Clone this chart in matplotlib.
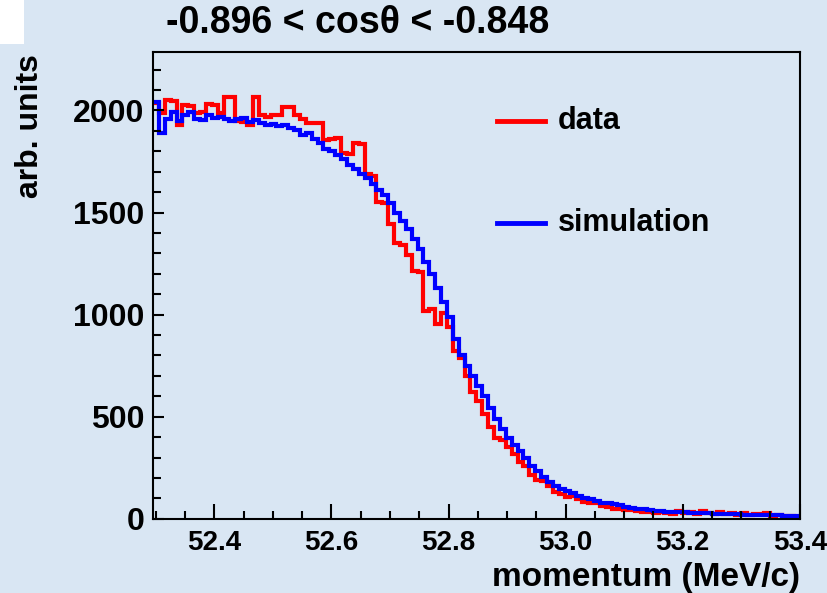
import numpy as np
import matplotlib
matplotlib.use("Agg")
import matplotlib.pyplot as plt
from matplotlib.patches import Rectangle
from matplotlib.ticker import MultipleLocator

plt.rcParams['font.family'] = ['Liberation Sans', 'DejaVu Sans']

# histogram binning (110 bins, ~0.01 MeV/c)
x_lo, x_hi = 52.295, 53.4
n_bins = 110

# measured momentum spectrum (red)
data_counts = [
    2035, 1985, 2050, 2045, 1930, 2025, 2020, 1985, 1990, 2030,
    2025, 1985, 2065, 2068, 1950, 1945, 1930, 2065, 1975, 1970,
    1975, 1975, 2015, 2015, 1975, 1960, 1940, 1940, 1940, 1855,
    1860, 1865, 1790, 1785, 1840, 1835, 1690, 1680, 1550, 1545,
    1445, 1350, 1340, 1290, 1215, 1210, 1020, 1030, 955, 1010,
    940, 820, 790, 700, 620, 575, 515, 450, 395, 385,
    350, 320, 280, 260, 215, 190, 185, 160, 130, 120,
    105, 110, 95, 85, 78, 80, 62, 58, 50, 48,
    45, 42, 40, 36, 32, 30, 35, 28, 26, 40,
    30, 35, 25, 38, 28, 22, 32, 24, 30, 20,
    28, 18, 25, 22, 30, 16, 20, 14, 12, 10,
]

# Monte Carlo spectrum (blue)
sim_counts = [
    2040, 1890, 1960, 1990, 1950, 1975, 1990, 1960, 1955, 1975,
    1965, 1970, 1960, 1950, 1960, 1965, 1945, 1955, 1940, 1930,
    1935, 1925, 1930, 1915, 1905, 1880, 1890, 1860, 1840, 1810,
    1800, 1780, 1760, 1735, 1715, 1690, 1670, 1640, 1610, 1585,
    1545, 1500, 1460, 1420, 1370, 1320, 1260, 1200, 1130, 1060,
    990, 880, 800, 750, 700, 650, 600, 545, 490, 440,
    395, 360, 330, 300, 260, 235, 205, 180, 160, 145,
    135, 125, 112, 102, 95, 88, 80, 76, 72, 66,
    60, 55, 50, 46, 43, 40, 38, 36, 34, 33,
    32, 30, 29, 28, 27, 26, 25, 24, 23, 22,
    21, 20, 20, 19, 18, 18, 17, 16, 16, 15,
]

title = "-0.896 < cos\u03b8 < -0.848"
bg = "#d9e6f3"

edges = np.linspace(x_lo, x_hi, n_bins + 1)

fig = plt.figure(figsize=(8.27, 5.93), dpi=100, facecolor=bg)
ax = fig.add_axes([0.185, 0.125, 0.782, 0.787])
ax.set_facecolor(bg)

ax.stairs(data_counts, edges, color="#ff0000", lw=3.0, baseline=None)
ax.stairs(sim_counts, edges, color="#0000ff", lw=3.0, baseline=None)

ax.set_xlim(x_lo, x_hi)
ax.set_ylim(0, 2285)

ax.xaxis.set_major_locator(MultipleLocator(0.2))
ax.xaxis.set_minor_locator(MultipleLocator(0.05))
ax.yaxis.set_major_locator(MultipleLocator(500))
ax.yaxis.set_minor_locator(MultipleLocator(100))
ax.xaxis.set_major_formatter(matplotlib.ticker.FormatStrFormatter("%.1f"))

ax.tick_params(axis="x", which="major", direction="in", length=11, width=1.5,
               labelsize=20, pad=8)
ax.tick_params(axis="x", which="minor", direction="in", length=6, width=1.5)
ax.tick_params(axis="y", which="major", direction="in", length=8, width=1.5,
               labelsize=23, pad=6)
ax.tick_params(axis="y", which="minor", direction="in", length=6, width=1.5)
for lab in ax.get_xticklabels() + ax.get_yticklabels():
    lab.set_fontweight("bold")
for s in ax.spines.values():
    s.set_linewidth(1.5)

# legend drawn by hand like the original
ax.plot([0.532, 0.606], [0.852, 0.852], color="#ff0000", lw=3.5, transform=ax.transAxes)
ax.plot([0.532, 0.606], [0.634, 0.634], color="#0000ff", lw=3.5, transform=ax.transAxes)
ax.text(0.626, 0.852, "data", transform=ax.transAxes, fontsize=22,
        fontweight="bold", va="center", ha="left")
ax.text(0.626, 0.634, "simulation", transform=ax.transAxes, fontsize=22,
        fontweight="bold", va="center", ha="left")

fig.text(0.433, 0.962, title, fontsize=27, fontweight="bold", ha="center", va="center")
fig.text(0.967, 0.026, "momentum (MeV/c)", fontsize=24, fontweight="bold",
         ha="right", va="center")
fig.text(0.036, 0.908, "arb. units", fontsize=23, fontweight="bold",
         ha="center", va="top", rotation=90)

# white patch in the top-left corner
fig.patches.append(Rectangle((0, 0.925), 0.029, 0.075, transform=fig.transFigure,
                             facecolor="white", edgecolor="none"))

fig.savefig("out.png", dpi=100, facecolor=bg)
